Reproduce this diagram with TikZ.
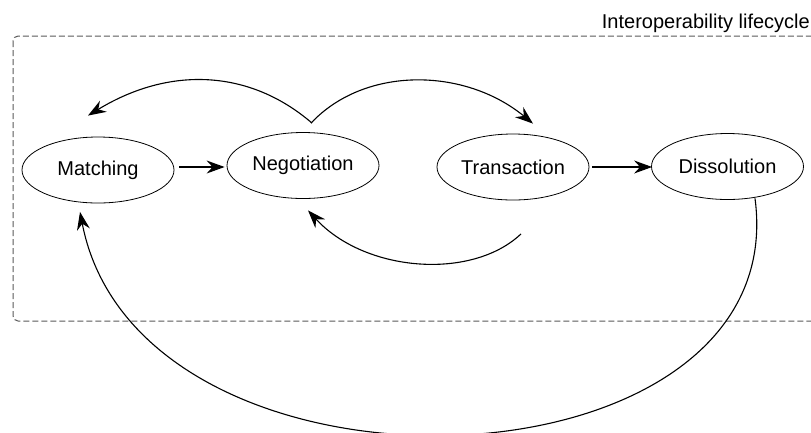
\documentclass[tikz,border=0pt]{standalone}
\usepackage{fontspec}
\setmainfont{Liberation Sans}
\usetikzlibrary{arrows.meta,shapes.geometric,calc}

\tikzset{
  phase/.style={draw, ellipse, line width=0.8pt, minimum width=152pt,
    minimum height=66pt, inner sep=0pt, font=\fontsize{20}{24}\selectfont},
  flow/.style={line width=1.1pt, -{Stealth[length=18pt, width=13pt, inset=6pt]}},
  frame/.style={dashed, dash pattern=on 6pt off 3pt, draw=black!65,
    line width=1pt, rounded corners=5pt},
  title/.style={font=\fontsize{20}{24}\selectfont, anchor=base east, inner sep=0pt}
}

\begin{document}
\begin{tikzpicture}[x=1pt, y=1pt]
  \useasboundingbox (0,0) rectangle (811,-432);
  \clip (0,0) rectangle (811,-432);

  % lifecycle frame and its caption
  \draw[frame] (13,-36) rectangle (840,-321);
  \node[title] (cap) at (810,-28.5) {Interoperability lifecycle};

  % phases
  \node[phase] (Matching)    at (98,-170)    {Matching};
  \node[phase] (Negotiation) at (303,-165.5) {Negotiation};
  \node[phase] (Transaction) at (513,-167)   {Transaction};
  \node[phase] (Dissolution) at (727.5,-166.5) {Dissolution};

  % forward steps
  \draw[flow] ($(Matching.east)+(5,3)$) -- ($(Negotiation.west)+(-2,-1.5)$);
  \draw[flow] ($(Transaction.east)+(3,0)$) -- ($(Dissolution.west)+(1,-0.5)$);

  % negotiation back to matching
  \draw[flow] ($(Negotiation.north)+(9,9)$)
    .. controls +(-62,53.5) and +(82,50) .. ($(Matching.north)+(-10,21)$);
  % negotiation on to transaction
  \draw[flow] ($(Negotiation.north)+(8,9)$)
    .. controls +(54,57.5) and +(-68,56) .. ($(Transaction.north)+(20,10)$);
  % transaction back to negotiation
  \draw[flow] ($(Transaction.south)+(8,-33.5)$)
    .. controls +(-49,-46.5) and +(57,-62) .. ($(Negotiation.south)+(5,-11.5)$);
  % dissolution round to matching
  \draw[flow] ($(Dissolution.south)+(27.5,1.5)$)
    .. controls +(40,-300) and +(60,-310) .. ($(Matching.south)+(-18,-8.5)$);
\end{tikzpicture}
\end{document}
